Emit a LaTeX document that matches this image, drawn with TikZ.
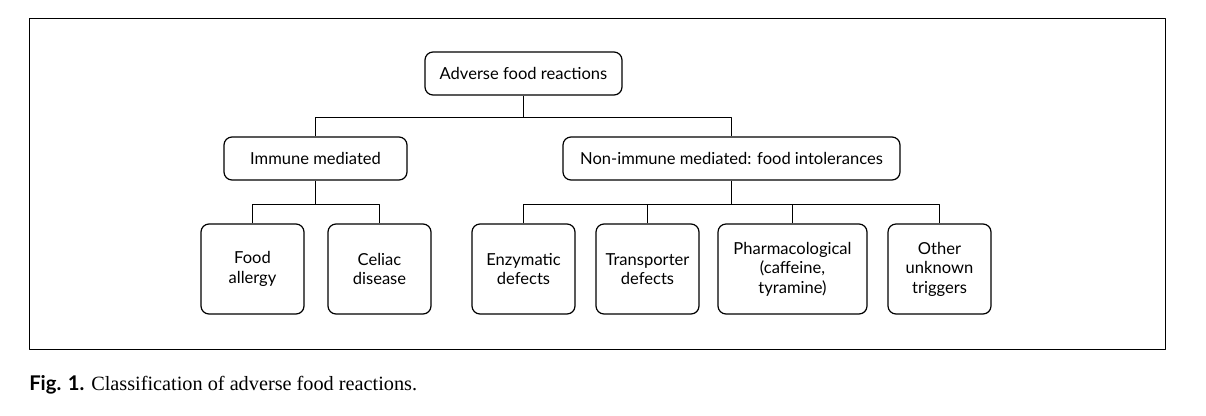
\documentclass[tikz,border=0pt]{standalone}
\usepackage{fontspec}
\setmainfont{Liberation Serif}
\setsansfont{Lato}

\begin{document}
\begin{tikzpicture}[x=0.75pt, y=-0.75pt, line join=round,
    box/.style={draw, rounded corners=6pt, line width=0.9pt, align=center,
      inner sep=0pt, font=\sffamily\fontsize{12.4}{14.6}\selectfont},
    leaf/.style={box, minimum width=77.25pt, minimum height=67.5pt},
    link/.style={line width=1.25pt}]
    % Fix the page size to the reference
    \useasboundingbox (0,0) rectangle (1206,415);

    % Outer frame
    \draw[line width=0.7pt] (29,18) rectangle (1165,349);

    % Top level
    \node[box, minimum width=147.75pt, minimum height=32.25pt] (afr) at (523.5,73.5) {Adverse food reactions};

    % Second level
    \node[box, minimum width=137.25pt, minimum height=32.25pt] (imm) at (315.5,158.5) {Immune mediated};
    \node[box, minimum width=252.75pt, minimum height=32.25pt] (nonimm) at (731.5,158.5) {Non-immune mediated: food intolerances};

    % Third level
    \node[leaf] (allergy) at (252.5,269) {Food\\allergy};
    \node[leaf] (celiac) at (379.5,269) {Celiac\\disease};
    \node[leaf] (enzym) at (523.5,269) {Enzymatic\\defects};
    \node[leaf] (transp) at (647.5,269) {Transporter\\defects};
    \node[leaf, minimum width=111.75pt] (pharma) at (792.5,269) {Pharmacological\\(caffeine,\\tyramine)};
    \node[leaf] (other) at (939.5,269) {Other\\unknown\\triggers};

    % Connectors
    \draw[link] (afr.south) -- ++(0,22) coordinate (j1);
    \draw[link] (imm.north) |- (j1) -| (nonimm.north);
    \draw[link] (imm.south) -- ++(0,24) coordinate (j2);
    \draw[link] (allergy.north) |- (j2) -| (celiac.north);
    \draw[link] (nonimm.south) -- ++(0,24) coordinate (j3);
    \draw[link] (enzym.north) |- (j3) -| (other.north);
    \draw[link] (transp.north) -- (transp.north |- j3);
    \draw[link] (pharma.north) -- (pharma.north |- j3);

    % Caption
    \node[anchor=base west, inner sep=0pt, font=\fontsize{15.2}{18}\selectfont] (cap) at (29,390)
      {\textsf{\bfseries Fig. 1.} Classification of adverse food reactions.};
\end{tikzpicture}
\end{document}
